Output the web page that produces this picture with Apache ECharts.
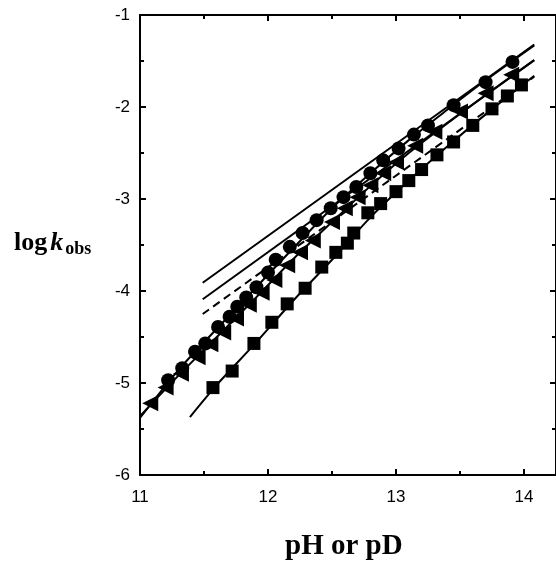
<!DOCTYPE html>
<html>
<head>
<meta charset="utf-8">
<script src="https://cdn.jsdelivr.net/npm/echarts@6/dist/echarts.min.js"></script>
<style>
  html, body { margin: 0; padding: 0; background: #fff; }
  #main { width: 556px; height: 561px; }
</style>
</head>
<body>
<div id="main"></div>
<script>
// measured points (pH, log k)
var circlePts = [[11.22,-4.97],[11.33,-4.84],[11.43,-4.66],[11.51,-4.57],[11.61,-4.39],[11.70,-4.28],[11.76,-4.17],[11.83,-4.07],[11.91,-3.96],[12.0,-3.80],[12.06,-3.66],[12.17,-3.52],[12.27,-3.37],[12.38,-3.23],[12.49,-3.10],[12.59,-2.98],[12.69,-2.87],[12.80,-2.72],[12.90,-2.58],[13.02,-2.45],[13.14,-2.30],[13.25,-2.20],[13.45,-1.98],[13.70,-1.73],[13.91,-1.51]];
var trianglePts = [[11.08,-5.22],[11.2,-5.05],[11.32,-4.9],[11.45,-4.72],[11.55,-4.58],[11.65,-4.45],[11.75,-4.3],[11.85,-4.15],[11.95,-4.02],[12.05,-3.88],[12.15,-3.72],[12.25,-3.58],[12.35,-3.45],[12.5,-3.25],[12.6,-3.1],[12.7,-2.98],[12.8,-2.85],[12.9,-2.72],[13.0,-2.6],[13.15,-2.42],[13.3,-2.27],[13.5,-2.05],[13.7,-1.85],[13.9,-1.65]];
var squarePts = [[11.57,-5.05],[11.72,-4.87],[11.89,-4.57],[12.03,-4.34],[12.15,-4.14],[12.29,-3.97],[12.42,-3.74],[12.53,-3.58],[12.62,-3.48],[12.67,-3.37],[12.78,-3.15],[12.88,-3.05],[13.0,-2.92],[13.1,-2.80],[13.2,-2.68],[13.32,-2.52],[13.45,-2.38],[13.6,-2.2],[13.75,-2.02],[13.87,-1.88],[13.98,-1.76]];

// fitted curves
var circleFit = [[11.0,-5.38],[11.3,-4.86],[11.6,-4.41],[11.9,-3.97],[12.2,-3.53],[12.5,-3.1],[12.8,-2.72],[13.1,-2.36],[13.4,-2.03],[13.7,-1.71],[14.08,-1.33]];
var triangleFit = [[11.0,-5.36],[11.3,-4.92],[11.6,-4.5],[11.9,-4.08],[12.2,-3.65],[12.5,-3.25],[12.8,-2.86],[13.1,-2.5],[13.4,-2.18],[13.7,-1.87],[14.08,-1.49]];
var squareFit = [[11.39,-5.37],[11.6,-5.02],[11.9,-4.57],[12.2,-4.1],[12.5,-3.66],[12.8,-3.2],[13.1,-2.8],[13.4,-2.43],[13.7,-2.08],[14.08,-1.66]];

// slope-1 limiting lines
var limit1 = [[11.49,-3.91],[14.08,-1.32]];
var limit2 = [[11.49,-4.09],[14.08,-1.49]];
var limit3 = [[11.49,-4.25],[14.08,-1.67]];

var myChart = echarts.init(document.getElementById('main'), null, { renderer: 'canvas' });

var axisLine = { show: true, lineStyle: { color: '#000', width: 2 } };
var tick = { show: true, inside: true, length: 6, lineStyle: { color: '#000', width: 2 } };
var minor = { show: true, splitNumber: 2, length: 4, lineStyle: { color: '#000', width: 2 } };
var tickFont = { color: '#000', fontSize: 17, fontFamily: 'Liberation Sans, Arial, sans-serif' };
var serif = 'Liberation Serif, Times New Roman, serif';

function fit(data, dashed) {
  return {
    type: 'line', data: data, showSymbol: false, smooth: 0.3, z: 1,
    lineStyle: { color: '#000', width: 2, type: dashed ? [8, 5] : 'solid' }
  };
}
function pts(data, symbol, size, rot) {
  return {
    type: 'scatter', data: data, symbol: symbol, symbolSize: size, symbolRotate: rot || 0, z: 3,
    itemStyle: { color: '#000', opacity: 1 }
  };
}

var option = {
  animation: false,
  backgroundColor: '#fff',
  grid: { left: 140, right: -2, top: 15, bottom: 86 },
  xAxis: [
    { type: 'value', position: 'bottom', min: 11, max: 14.25, interval: 1,
      axisLine: axisLine, axisTick: tick, minorTick: minor, splitLine: { show: false },
      axisLabel: Object.assign({ margin: 14, showMaxLabel: false }, tickFont) },
    { type: 'value', position: 'top', min: 11, max: 14.25, interval: 1,
      axisLine: axisLine, axisTick: tick, minorTick: minor, splitLine: { show: false },
      axisLabel: { show: false } }
  ],
  yAxis: [
    { type: 'value', position: 'left', min: -6, max: -1, interval: 1,
      axisLine: axisLine, axisTick: tick, minorTick: minor, splitLine: { show: false },
      axisLabel: Object.assign({ margin: 10 }, tickFont) },
    { type: 'value', position: 'right', min: -6, max: -1, interval: 1,
      axisLine: axisLine, axisTick: tick, minorTick: minor, splitLine: { show: false },
      axisLabel: { show: false } }
  ],
  graphic: [
    { type: 'text', left: 14, top: 230,
      style: { text: '{a|log}{k|k}{s|obs}', rich: {
        a: { fontFamily: serif, fontWeight: 'bold', fontSize: 26, fill: '#000' },
        k: { fontFamily: serif, fontWeight: 'bold', fontStyle: 'italic', fontSize: 26, fill: '#000', padding: [0, 2, 0, 3] },
        s: { fontFamily: serif, fontWeight: 'bold', fontSize: 18, fill: '#000', padding: [12, 0, 0, 0] }
      } } },
    { type: 'text', left: 285, top: 532,
      style: { text: 'pH or pD', fontFamily: serif, fontWeight: 'bold', fontSize: 29, fill: '#000' } }
  ],
  series: [
    fit(limit1), fit(limit2), fit(limit3, true),
    fit(circleFit), fit(triangleFit), fit(squareFit),
    pts(circlePts, 'circle', 14),
    pts(trianglePts, 'triangle', 16, 90),
    pts(squarePts, 'rect', 13)
  ]
};

myChart.setOption(option);
window.addEventListener('resize', myChart.resize);
</script>
</body>
</html>
